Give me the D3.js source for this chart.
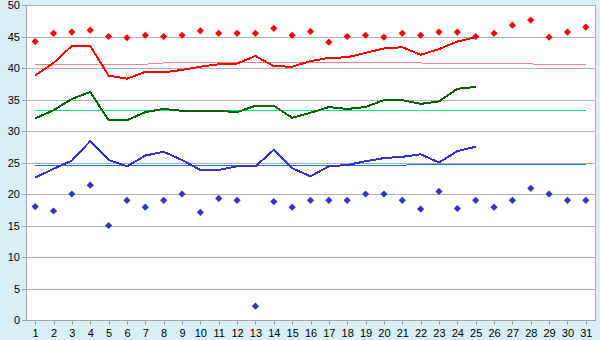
<!doctype html>
<html>
<head>
<meta charset="utf-8">
<title>chart</title>
<script src="https://d3js.org/d3.v7.min.js"></script>
<style>
body{margin:0;background:#d9eff6;}
text{font-family:"Liberation Sans",Arial,sans-serif;font-size:11px;fill:#000;}
</style>
</head>
<body>
<script>
// days of the month
var days = d3.range(1, 32);
var yTicks = [0, 5, 10, 15, 20, 25, 30, 35, 40, 45, 50];

// daily highs (diamonds)
var maxPts = [44.2,45.5,45.7,46.0,45.0,44.8,45.2,45.0,45.2,45.9,45.5,45.5,45.5,46.3,45.2,45.8,44.1,45.0,45.2,44.9,45.5,45.2,45.7,45.7,45.0,45.5,46.8,47.6,44.9,45.7,46.5];
// daily lows (diamonds)
var minPts = [18.0,17.3,20.0,21.4,15.0,19.0,17.9,19.0,20.0,17.1,19.3,19.0,2.2,18.8,17.9,19.0,19.0,19.0,20.0,20.0,19.0,17.6,20.4,17.7,19.0,17.9,19.0,20.9,20.0,19.0,19.0];
// lines, only first 25 days
var maxLine = [38.8,40.8,43.5,43.5,38.8,38.3,39.4,39.3,39.7,40.2,40.6,40.7,41.9,40.3,40.2,41.1,41.6,41.7,42.4,43.1,43.3,42.1,43.0,44.2,44.9];
var avgLine = [32.0,33.3,35.1,36.2,31.7,31.7,33.0,33.5,33.2,33.2,33.2,33.0,34.0,34.0,32.1,32.9,33.8,33.5,33.8,34.9,34.9,34.3,34.7,36.7,37.0];
var minLine = [22.6,24.0,25.3,28.4,25.4,24.4,26.1,26.7,25.4,23.8,23.8,24.4,24.4,27.0,24.1,22.8,24.4,24.6,25.2,25.7,25.9,26.3,25.0,26.8,27.5];
// normals
var maxNorm = [40.6,40.6,40.6,40.6,40.6,40.6,40.6,40.8,40.8,40.8,40.8,40.8,40.8,40.8,40.8,40.8,40.8,40.8,40.8,40.8,40.8,40.8,40.65,40.65,40.65,40.65,40.65,40.65,40.5,40.5,40.5];
var avgNorm = days.map(function(){return 33.3;});
var minNorm = [24.55,24.55,24.55,24.55,24.55,24.55,24.55,24.55,24.55,24.55,24.55,24.55,24.55,24.55,24.55,24.55,24.55,24.55,24.55,24.55,24.55,24.75,24.75,24.75,24.75,24.75,24.75,24.75,24.75,24.75,24.75];

var width = 600, height = 340;
var pl = 26, pr = 595, pt = 5, pb = 320;

var svg = d3.select("body").append("svg")
    .attr("width", width)
    .attr("height", height)
    .style("display","block");

svg.append("rect").attr("x",pl).attr("y",pt)
   .attr("width",pr-pl).attr("height",pb-pt)
   .style("fill","#fff");

var x = d3.scalePoint().domain(days).range([pl,pr]).padding(0.5);
var y = d3.scaleLinear().domain([0,50]).range([pb,pt]);

// grid
svg.selectAll(".grid").data(yTicks.slice(1)).enter()
   .append("line")
   .attr("x1",pl).attr("x2",pr)
   .attr("y1",function(d){return y(d)+0.5;}).attr("y2",function(d){return y(d)+0.5;})
   .style("stroke","#b0b0b0").style("shape-rendering","crispEdges");
svg.append("line").attr("x1",pr+0.5).attr("x2",pr+0.5).attr("y1",pt).attr("y2",pb)
   .style("stroke","#b0b0b0").style("shape-rendering","crispEdges");

var yAxis = svg.append("g").attr("transform","translate("+pl+",0)")
   .call(d3.axisLeft(y).tickValues(yTicks).tickSize(4).tickPadding(2).tickSizeOuter(0));
var xAxis = svg.append("g").attr("transform","translate(0,"+pb+")")
   .call(d3.axisBottom(x).tickSize(5).tickPadding(4).tickSizeOuter(0));
svg.selectAll(".domain,.tick line").style("stroke","#a0a0a0").style("shape-rendering","crispEdges");
svg.selectAll(".tick text").style("font-family","Liberation Sans").style("font-size","11px").style("fill","#000");

function drawLine(vals, color, w){
  var line = d3.line()
      .x(function(d,i){return x(days[i]);})
      .y(function(d){return y(d);});
  svg.append("path").datum(vals)
     .attr("d",line)
     .style("fill","none").style("stroke",color).style("stroke-width",w)
     .style("shape-rendering","crispEdges");
}

var diamond = {draw:function(ctx,size){
  var r = Math.sqrt(size);
  ctx.moveTo(0,-r); ctx.lineTo(r,0); ctx.lineTo(0,r); ctx.lineTo(-r,0); ctx.closePath();
}};
function drawPts(vals, color){
  svg.selectAll(null).data(vals).enter()
     .append("path")
     .attr("d",d3.symbol().type(diamond).size(13))
     .attr("transform",function(d,i){return "translate("+x(days[i])+","+y(d)+")";})
     .style("fill",color);
}

drawLine(maxNorm,"#ff8080",1);
drawLine(avgNorm,"#00f080",1);
drawLine(minNorm,"#1a75e6",1);
drawLine(maxLine,"#ff0000",2);
drawLine(avgLine,"#006400",2);
drawLine(minLine,"#3333cc",2);
drawPts(maxPts,"#ff0000");
drawPts(minPts,"#3333cc");
</script>
</body>
</html>
